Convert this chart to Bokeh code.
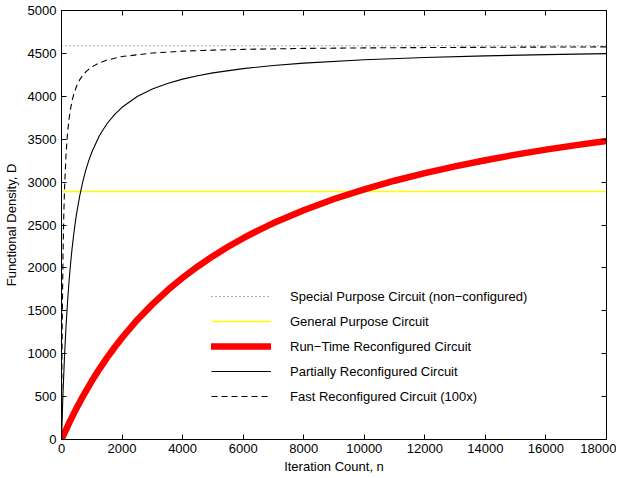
from bokeh.plotting import figure
from bokeh.models import Range1d, LinearAxis, SingleIntervalTicker, BasicTickFormatter
from bokeh.embed import file_html
from bokeh.resources import INLINE

# ---- data ----
n_flat = [0, 18000]
special_purpose = [4590, 4590]
general_purpose = [2890, 2890]

n_runtime = [0, 250, 500, 750, 1000, 1250, 1500, 1750, 2000, 2500, 3000, 3500, 4000, 4500,
             5000, 5500, 6000, 6500, 7000, 8000, 9000, 10000, 11000, 12000, 13000, 14000,
             15000, 16000, 17000, 18000]
d_runtime = [0, 192, 368, 530, 681, 821, 951, 1072, 1186, 1393, 1575, 1739, 1885, 2017,
             2137, 2246, 2346, 2438, 2522, 2672, 2803, 2916, 3016, 3105, 3184, 3255,
             3320, 3378, 3431, 3480]

n_partial = [0, 50, 100, 150, 200, 250, 300, 350, 400, 450, 500, 600, 700, 800, 900, 1000,
             1250, 1500, 1750, 2000, 2500, 3000, 3500, 4000, 4500, 5000, 6000, 7000, 8000,
             10000, 12000, 14000, 16000, 18000]
d_partial = [0, 545, 975, 1322, 1608, 1848, 2052, 2228, 2381, 2516, 2635, 2836, 3000, 3136, 3250, 3348,
             3540, 3680, 3787, 3872, 3997, 4085, 4150, 4200, 4240, 4273, 4323, 4359, 4387,
             4426, 4452, 4471, 4486, 4497]

n_fast = [0, 10, 25, 50, 75, 100, 150, 200, 250, 300, 350, 400, 500, 600, 700, 800, 1000,
          1200, 1500, 2000, 3000, 4000, 5000, 6000, 8000, 10000, 12000, 14000, 16000, 18000]
d_fast = [0, 685, 1399, 2145, 2608, 2924, 3326, 3572, 3738, 3857, 3947, 4017, 4120, 4192, 4244, 4285, 4342,
          4382, 4422, 4463, 4504, 4526, 4538, 4547, 4558, 4564, 4568, 4571, 4574, 4576]

FONT = "Liberation Sans"
FS = "13px"

p = figure(width=616, height=478, output_backend="svg", toolbar_location=None,
           x_range=Range1d(0, 18000), y_range=Range1d(0, 5000),
           min_border_left=54, min_border_right=10, min_border_top=10, min_border_bottom=39)
p.grid.visible = False
p.outline_line_color = "black"
p.outline_line_width = 1
p.background_fill_color = "white"
p.border_fill_color = "white"

xt = SingleIntervalTicker(interval=2000, num_minor_ticks=0)
yt = SingleIntervalTicker(interval=500, num_minor_ticks=0)

for ax, t in ((p.xaxis[0], xt), (p.yaxis[0], yt)):
    ax.ticker = t
    ax.formatter = BasicTickFormatter(use_scientific=False)
    ax.major_tick_in = 5
    ax.major_tick_out = 0
    ax.minor_tick_line_color = None
    ax.axis_line_color = "black"
    ax.major_tick_line_color = "black"
    ax.major_label_text_font = FONT
    ax.major_label_text_font_size = FS
    ax.major_label_text_color = "black"
    ax.axis_label_text_font = FONT
    ax.axis_label_text_font_size = FS
    ax.axis_label_text_font_style = "normal"
    ax.axis_label_text_color = "black"

p.xaxis.axis_label = "Iteration Count, n"
p.yaxis.axis_label = "Functional Density, D"
p.xaxis.major_label_standoff = 4
p.xaxis.axis_label_standoff = 3
p.yaxis.major_label_standoff = 5
p.yaxis.axis_label_standoff = 6

for loc, t in (("above", xt), ("right", yt)):
    ax = LinearAxis(ticker=t, major_tick_in=5, major_tick_out=0,
                    major_label_text_font_size="0px", major_label_standoff=0,
                    minor_tick_line_color=None, axis_line_color="black",
                    major_tick_line_color="black")
    p.add_layout(ax, loc)

p.line(n_flat, special_purpose, line_color="black", line_width=0.8, line_dash="1 3",
       line_alpha=0.8, legend_label="Special Purpose Circuit (non\u2212configured)")
p.line(n_flat, general_purpose, line_color="#ffff00", line_width=1.4,
       legend_label="General Purpose Circuit")
p.line(n_runtime, d_runtime, line_color="red", line_width=6.5, line_cap="round",
       line_join="round", legend_label="Run\u2212Time Reconfigured Circuit")
p.line(n_partial, d_partial, line_color="black", line_width=1.1,
       legend_label="Partially Reconfigured Circuit")
p.line(n_fast, d_fast, line_color="black", line_width=1.1, line_dash="6 4",
       legend_label="Fast Reconfigured Circuit (100x)")

lg = p.legend[0]
lg.location = (150, 33)
lg.border_line_alpha = 0
lg.background_fill_alpha = 0
lg.padding = 0
lg.margin = 0
lg.spacing = 5
lg.glyph_width = 60
lg.glyph_height = 20
lg.label_height = 20
lg.label_standoff = 19
lg.label_text_font = FONT
lg.label_text_font_size = FS
lg.label_text_color = "black"

open("out.html", "w").write(file_html(p, INLINE))
